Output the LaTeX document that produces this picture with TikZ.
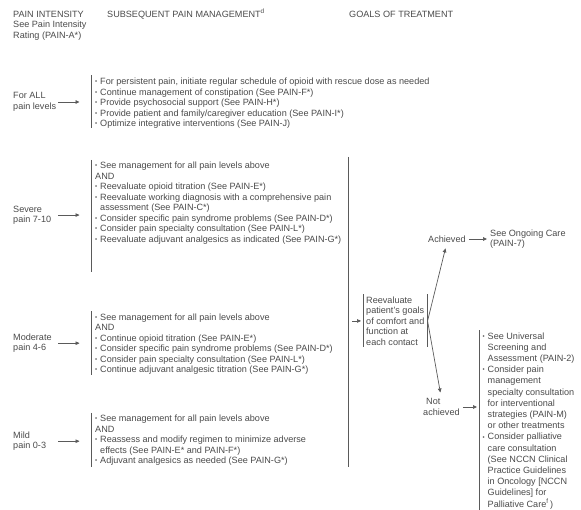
\documentclass[tikz,border=0pt]{standalone}
\usepackage{fontspec}
\setmainfont{Liberation Sans}
\usetikzlibrary{arrows.meta}
\definecolor{txtc}{HTML}{4A4A4A}
\definecolor{linec}{HTML}{5A5A5A}
\newcommand{\fs}{\fontsize{9.1}{10.5}\selectfont}
\newcommand{\fsl}{\fontsize{9.1}{11.2}\selectfont}
\newcommand{\bu}{\makebox[5pt][l]{\raisebox{0.8pt}{\fontsize{6}{6}\selectfont •}}}
\newcommand{\ci}{\hspace*{5pt}}
\begin{document}
\begin{tikzpicture}[x=1pt,y=-1pt,
  txt/.style={font=\fs, text=txtc, inner sep=0pt, align=left, anchor=north west},
  bar/.style={draw=linec, line width=0.7pt},
  arr/.style={draw=linec, line width=0.7pt, -{Triangle[length=4pt,width=3.6pt]}}]
\useasboundingbox (0,0) rectangle (581,510);
\coordinate (ax) at (58,0);
\coordinate (ae) at (79.5,0);
\coordinate (bl) at (348,0);
% headers
\node[txt] (h1) at (13,10.8) {PAIN INTENSITY\\See Pain Intensity\\Rating (PAIN-A*)};
\node[txt] (h2) at (107,11.2) {SUBSEQUENT PAIN MANAGEMENT\smash{\textsuperscript{d}}};
\node[txt] (h3) at (349,11.2) {GOALS OF TREATMENT};
% for all
\node[txt] (lall) at (13,92.5) {For ALL\\pain levels};
\node[txt] (ball) at (95,78) {\bu For persistent pain, initiate regular schedule of opioid with rescue dose as needed\\
\bu Continue management of constipation (See PAIN-F*)\\
\bu Provide psychosocial support (See PAIN-H*)\\
\bu Provide patient and family/caregiver education (See PAIN-I*)\\
\bu Optimize integrative interventions (See PAIN-J)};
\draw[bar] (91,75.5) -- (91,128.5);
\draw[arr] (ax |- lall.east) -- (ae |- lall.east);
% severe
\node[txt] (lsev) at (13,205.5) {Severe\\pain 7-10};
\node[txt] (bsev) at (95,162) {\bu See management for all pain levels above\\
AND\\
\bu Reevaluate opioid titration (See PAIN-E*)\\
\bu Reevaluate working diagnosis with a comprehensive pain\\
\ci assessment (See PAIN-C*)\\
\bu Consider specific pain syndrome problems (See PAIN-D*)\\
\bu Consider pain specialty consultation (See PAIN-L*)\\
\bu Reevaluate adjuvant analgesics as indicated (See PAIN-G*)};
\draw[bar] (91,160) -- (91,272);
\draw[arr] (ax |- lsev.east) -- (ae |- lsev.east);
% moderate
\node[txt] (lmod) at (13,333.5) {Moderate\\pain 4-6};
\node[txt] (bmod) at (95,313.4) {\bu See management for all pain levels above\\
AND\\
\bu Continue opioid titration (See PAIN-E*)\\
\bu Consider specific pain syndrome problems (See PAIN-D*)\\
\bu Consider pain specialty consultation (See PAIN-L*)\\
\bu Continue adjuvant analgesic titration (See PAIN-G*)};
\draw[bar] (91,311.5) -- (91,375);
\draw[arr] (ax |- lmod.east) -- (ae |- lmod.east);
% mild
\node[txt] (lmil) at (13,431.5) {Mild\\pain 0-3};
\node[txt] (bmil) at (95,415) {\bu See management for all pain levels above\\
AND\\
\bu Reassess and modify regimen to minimize adverse\\
\ci effects (See PAIN-E* and PAIN-F*)\\
\bu Adjuvant analgesics as needed (See PAIN-G*)};
\draw[bar] (91,413) -- (91,467);
\draw[arr] (ax |- lmil.east) -- (ae |- lmil.east);
% big line
\draw[bar] (348,157) -- (348,467);
% goals
\node[txt, inner xsep=3pt, inner ysep=2pt] (goal) at (363,294.4) {Reevaluate\\patient's goals\\of comfort and\\function at\\each contact};
\draw[bar] (goal.north west) -- (goal.south west);
\draw[bar] (goal.north east) -- (goal.south east);
\draw[arr, shorten <=4pt, shorten >=2pt] (bl |- goal.west) -- (goal.west);
\node[txt, anchor=west] (ach) at (428,239) {Achieved};
\node[txt, anchor=west] (ongo) at (490,239) {See Ongoing Care\\(PAIN-7)};
\draw[arr] ([xshift=3pt]ach.east) -- ([xshift=-3pt]ongo.west);
\draw[arr, shorten >=6pt] (goal.east) -- (ach.south);
\node[txt] (nach) at (423,398.4) {\hspace*{3pt}Not\\achieved};
\draw[arr, shorten >=6pt] (goal.east) -- (nach.north);
\node[txt, font=\fsl, inner xsep=3.5pt, inner ysep=2pt] (list) at (479,330.4) {\bu See Universal\\
\ci Screening and\\
\ci Assessment (PAIN-2)\\
\bu Consider pain\\
\ci management\\
\ci specialty consultation\\
\ci for interventional\\
\ci strategies (PAIN-M)\\
\ci or other treatments\\
\bu Consider palliative\\
\ci care consultation\\
\ci (See NCCN Clinical\\
\ci Practice Guidelines\\
\ci in Oncology [NCCN\\
\ci Guidelines] for\\
\ci Palliative Care\textsuperscript{f}\,)};
\draw[bar] (list.north west) -- (list.south west);
\draw[arr, shorten >=2pt] ([xshift=3pt]nach.east) -- (list.west |- nach.east);
\end{tikzpicture}
\end{document}
